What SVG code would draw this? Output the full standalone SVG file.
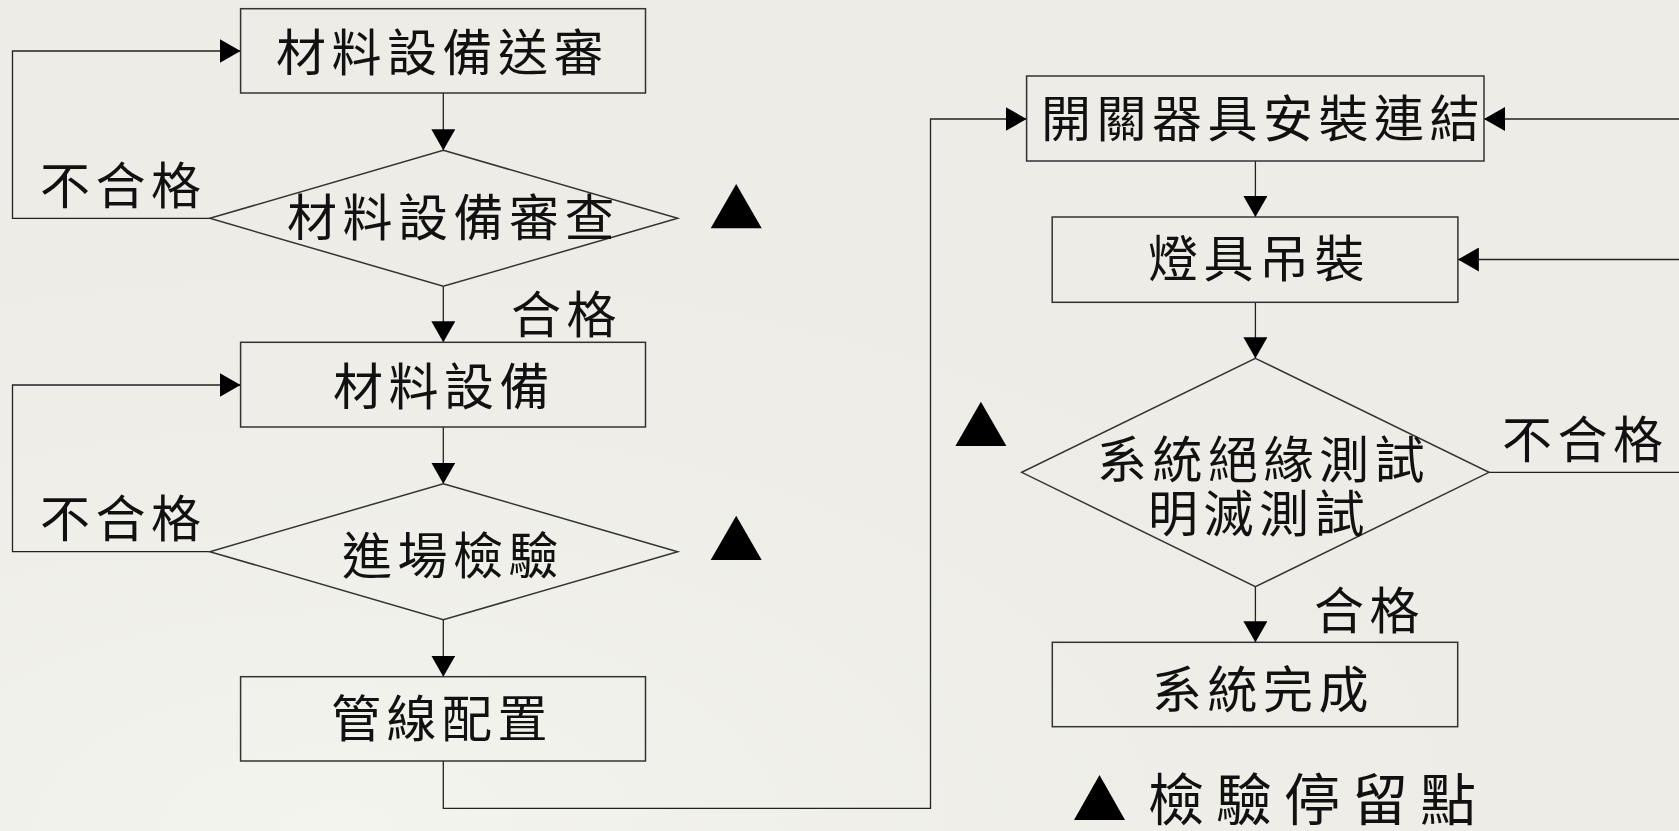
<svg xmlns="http://www.w3.org/2000/svg" width="1679" height="831" viewBox="0 0 1679 831">
  <defs>
    <style>
      .bg { fill: #edece6; }
      .node rect, .node polygon { fill: none; stroke: #333; stroke-width: 1.5; }
      .conn path { fill: none; stroke: #222; stroke-width: 1.3; }
      .t { font-family: "Noto Sans CJK TC", "Noto Sans CJK JP", sans-serif; font-size: 50px; letter-spacing: 5.5px; fill: #111; dominant-baseline: central; }
      .legend { font-size: 56px; letter-spacing: 12px; }
      .hold { fill: #000; }
    </style>
    <radialGradient id="glow" cx="0.2" cy="1" r="0.9">
      <stop offset="0" stop-color="#f4f4ef"/>
      <stop offset="1" stop-color="#edece6" stop-opacity="0"/>
    </radialGradient>
    <marker id="arr" markerUnits="userSpaceOnUse" markerWidth="21" markerHeight="24" refX="21" refY="12" orient="auto">
      <path d="M0,0 L21,12 L0,24 Z" fill="#000"/>
    </marker>
  </defs>

  <rect class="bg" x="0" y="0" width="1679" height="831"/>
  <rect x="0" y="0" width="1679" height="831" fill="url(#glow)"/>

  <g id="connectors" class="conn">
    <path d="M443.3,93 V150.3" marker-end="url(#arr)"/>
    <path d="M209.8,218.3 H12.5 V51 H240.6" marker-end="url(#arr)"/>
    <path d="M443.3,286.3 V342.3" marker-end="url(#arr)"/>
    <path d="M443.3,427 V483.7" marker-end="url(#arr)"/>
    <path d="M209.8,551.7 H12.5 V385 H240.6" marker-end="url(#arr)"/>
    <path d="M443.3,619.7 V676.7" marker-end="url(#arr)"/>
    <path d="M443.3,761 V808.3 H930.5 V119 H1026.6" marker-end="url(#arr)"/>
    <path d="M1255.4,161 V217" marker-end="url(#arr)"/>
    <path d="M1255.4,302.3 V358.3" marker-end="url(#arr)"/>
    <path d="M1255.4,586.7 V642.3" marker-end="url(#arr)"/>
    <path d="M1489,472.3 H1679"/>
    <path d="M1679,119 H1484" marker-end="url(#arr)"/>
    <path d="M1679,259.5 H1457.9" marker-end="url(#arr)"/>
  </g>

  <g id="n-submit" class="node">
    <rect x="240.6" y="8.7" width="404.9" height="84.3"/>
    <text class="t" x="276" y="49">材料設備送審</text>
  </g>
  <g id="n-review" class="node">
    <polygon points="443.3,150.3 677.7,218.3 443.3,286.3 209.8,218.3"/>
    <text class="t" x="287" y="214">材料設備審查</text>
  </g>
  <g id="n-material" class="node">
    <rect x="240.6" y="342.3" width="404.9" height="84.7"/>
    <text class="t" x="333" y="382.5">材料設備</text>
  </g>
  <g id="n-inspect" class="node">
    <polygon points="443.3,483.7 677.7,551.7 443.3,619.7 209.8,551.7"/>
    <text class="t" x="342" y="552">進場檢驗</text>
  </g>
  <g id="n-piping" class="node">
    <rect x="240.6" y="676.7" width="404.9" height="84.3"/>
    <text class="t" x="331" y="715">管線配置</text>
  </g>
  <g id="n-switch" class="node">
    <rect x="1026.6" y="76" width="457.4" height="85"/>
    <text class="t" x="1041" y="115">開關器具安裝連結</text>
  </g>
  <g id="n-lamp" class="node">
    <rect x="1052.2" y="217" width="405.7" height="85.3"/>
    <text class="t" x="1148" y="255">燈具吊裝</text>
  </g>
  <g id="n-test" class="node">
    <polygon points="1255.4,358.3 1489,472.3 1255.4,586.7 1021.7,472.3"/>
    <text class="t"><tspan x="1097" y="456">系統絕緣測試</tspan><tspan x="1148" y="510">明滅測試</tspan></text>
  </g>
  <g id="n-done" class="node">
    <rect x="1052.3" y="642.3" width="405.4" height="84.4"/>
    <text class="t" x="1152" y="686">系統完成</text>
  </g>

  <g id="labels">
    <text class="t" x="40" y="182">不合格</text>
    <text class="t" x="511" y="311">合格</text>
    <text class="t" x="40" y="515">不合格</text>
    <text class="t" x="1502" y="436">不合格</text>
    <text class="t" x="1314" y="607">合格</text>
  </g>

  <g id="hold-points">
    <polygon class="hold" points="736.2,184 761.7,228.3 710.7,228.3"/>
    <polygon class="hold" points="736.2,515.7 761.7,560 710.7,560"/>
    <polygon class="hold" points="980.9,401.7 1006.4,446 955.4,446"/>
  </g>

  <g id="legend">
    <polygon class="hold" points="1099.5,775 1125,820 1074,820"/>
    <text class="t legend" x="1148" y="795">檢驗停留點</text>
  </g>
</svg>
